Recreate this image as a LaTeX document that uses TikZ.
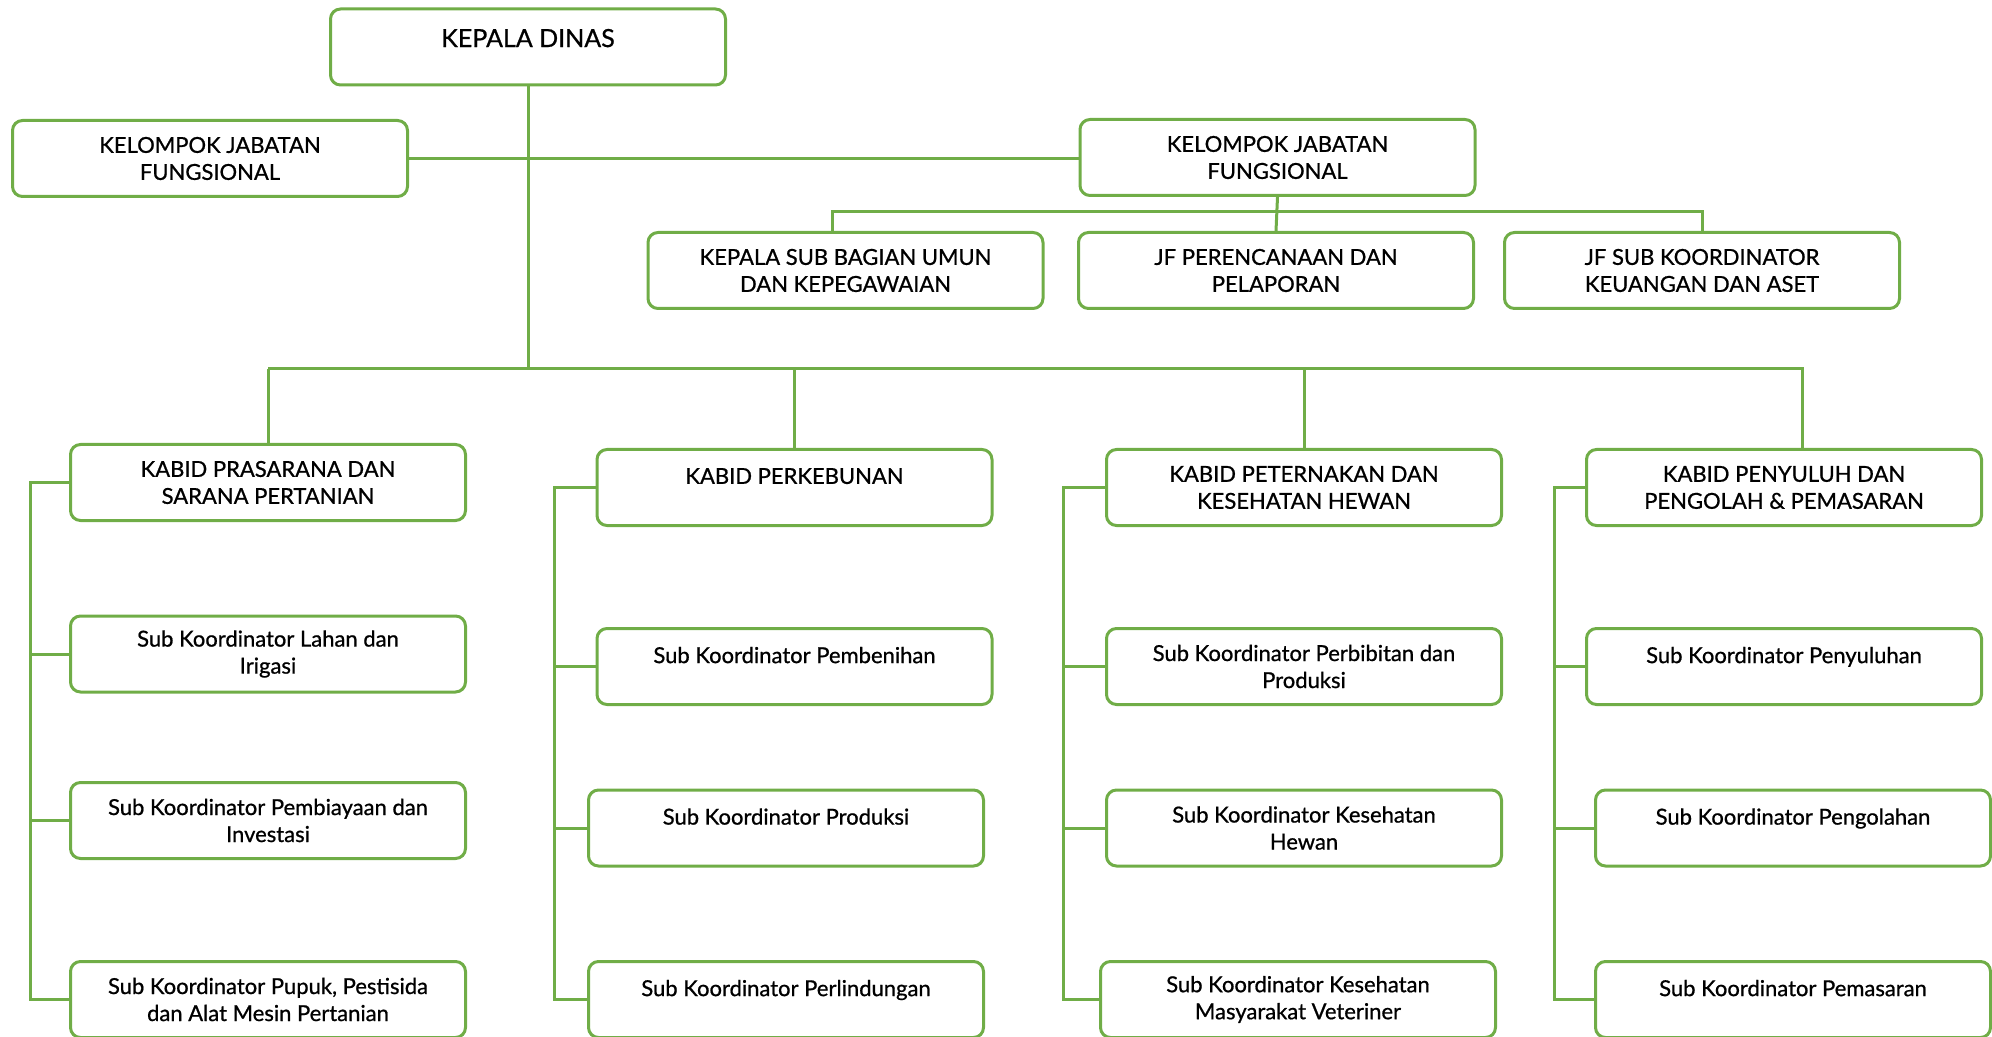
\documentclass[tikz,border=0pt]{standalone}
\usepackage{fontspec}
\setmainfont{Lato}[RawFeature={embolden=0.8}]
\usepackage{xcolor}
\usepackage{tikz}

\definecolor{dinasgreen}{RGB}{112,173,71}

\begin{document}
\begin{tikzpicture}[
  x=0.5pt,y=-0.5pt,
  box/.style={rectangle,draw=dinasgreen,line width=1.5pt,rounded corners=5pt,align=center,
    minimum width=197.5pt,minimum height=38pt,inner sep=2pt,font=\fontsize{11}{13.5}\selectfont},
  lonebox/.style={box,text depth=11.5pt},
  link/.style={draw=dinasgreen,line width=1.5pt}
]
\useasboundingbox (0,0) rectangle (1992,1037);

% pimpinan dan sekretariat
\node[box,font=\fontsize{12.5}{15}\selectfont,text depth=9pt] (kadis) at (528,47) {KEPALA DINAS};
\node[box] (kjfL) at (210,158.5) {KELOMPOK JABATAN\\FUNGSIONAL};
\node[box] (kjfR) at (1277.5,157.5) {KELOMPOK JABATAN\\FUNGSIONAL};
\node[box] (kasubag) at (845.5,270.5) {KEPALA SUB BAGIAN UMUN\\DAN KEPEGAWAIAN};
\node[box] (jfRen) at (1276,270.5) {JF PERENCANAAN DAN\\PELAPORAN};
\node[box] (jfKeu) at (1702,270.5) {JF SUB KOORDINATOR\\KEUANGAN DAN ASET};

% bidang
\node[box] (kbpsp) at (268,482.5) {KABID PRASARANA DAN\\SARANA PERTANIAN};
\node[lonebox] (kbpkb) at (794.5,487.5) {KABID PERKEBUNAN};
\node[box] (kbptk) at (1304,487.5) {KABID PETERNAKAN DAN\\KESEHATAN HEWAN};
\node[box] (kbpyl) at (1784,487.5) {KABID PENYULUH DAN\\PENGOLAH \& PEMASARAN};

% sub koordinator
\node[box] (psp1) at (268,654) {Sub Koordinator Lahan dan\\Irigasi};
\node[box] (psp2) at (268,820.5) {Sub Koordinator Pembiayaan dan\\Investasi};
\node[box] (psp3) at (268,999.5) {Sub Koordinator Pupuk, Pestisida\\dan Alat Mesin Pertanian};

\node[lonebox] (pkb1) at (794.5,666.5) {Sub Koordinator Pembenihan};
\node[lonebox] (pkb2) at (786,828) {Sub Koordinator Produksi};
\node[lonebox] (pkb3) at (786,999.5) {Sub Koordinator Perlindungan};

\node[box] (ptk1) at (1304,666.5) {Sub Koordinator Perbibitan dan\\Produksi};
\node[box] (ptk2) at (1304,828) {Sub Koordinator Kesehatan\\Hewan};
\node[box] (ptk3) at (1298,999.5) {Sub Koordinator Kesehatan\\Masyarakat Veteriner};

\node[lonebox] (pyl1) at (1784,666.5) {Sub Koordinator Penyuluhan};
\node[lonebox] (pyl2) at (1793,828) {Sub Koordinator Pengolahan};
\node[lonebox] (pyl3) at (1793,999.5) {Sub Koordinator Pemasaran};

% garis komando
\coordinate (bidBus) at (528,369);
\coordinate (sekL) at (832,212);
\coordinate (sekR) at (1702,212);
\draw[link] (kadis.south) -- (bidBus);
\draw[link] (kjfL.east) -- (kjfL.east -| kjfR.west);
\draw[link] (kjfR.south) -- (jfRen.north);
\draw[link] (kasubag.north -| sekL) -- (sekL) -- (sekR) -- (jfKeu.north -| sekR);
\draw[link] (kbpsp.north |- bidBus) -- ([xshift=9pt]kbpyl.north |- bidBus) -- ([xshift=9pt]kbpyl.north);
\foreach \k in {psp,pkb,ptk}
  \draw[link] (kb\k.north |- bidBus) -- (kb\k.north);

% garis bidang ke sub koordinator
\foreach \k/\tx in {psp/30,pkb/554,ptk/1063,pyl/1554}{
  \coordinate (trk\k) at (\tx,0);
  \draw[link] (kb\k.west) -- (kb\k.west -| trk\k) -- (\k3.west -| trk\k) -- (\k3.west);
  \foreach \i in {1,2}
    \draw[link] (\k\i.west) -- (\k\i.west -| trk\k);
}
\end{tikzpicture}
\end{document}
